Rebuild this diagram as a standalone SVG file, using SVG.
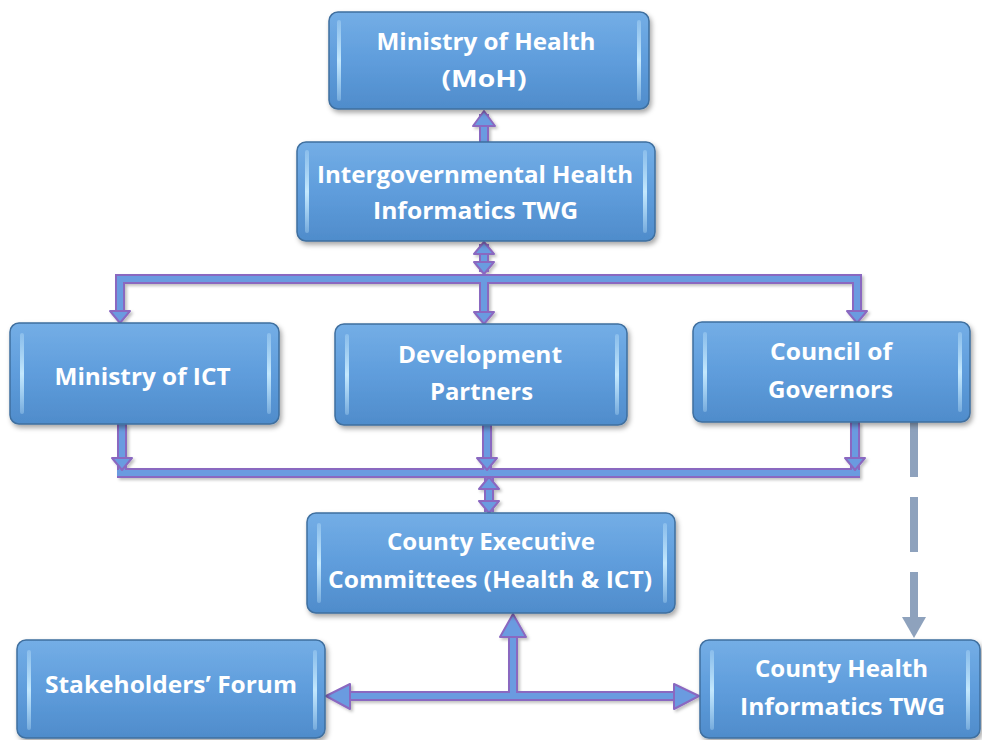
<svg xmlns="http://www.w3.org/2000/svg" width="982" height="740" viewBox="0 0 982 740">
<defs>
<linearGradient id="boxg" x1="0" y1="0" x2="0" y2="1">
<stop offset="0" stop-color="#74aee6"/>
<stop offset="0.5" stop-color="#5f9ddc"/>
<stop offset="1" stop-color="#4f8ccb"/>
</linearGradient>
<linearGradient id="stripg" x1="0" y1="0" x2="0" y2="1">
<stop offset="0" stop-color="#c9ecff" stop-opacity="0.3"/>
<stop offset="0.5" stop-color="#c9ecff" stop-opacity="0.95"/>
<stop offset="1" stop-color="#c9ecff" stop-opacity="0.3"/>
</linearGradient>
<filter id="sh" x="-10%" y="-10%" width="130%" height="140%">
<feDropShadow dx="2" dy="3" stdDeviation="2.5" flood-color="#000" flood-opacity="0.35"/>
</filter>
<filter id="csh" x="-20%" y="-20%" width="140%" height="140%">
<feDropShadow dx="2" dy="2" stdDeviation="1.5" flood-color="#000" flood-opacity="0.25"/>
</filter>
</defs>
<style>
.box{fill:url(#boxg);stroke:#3f6f9f;stroke-width:1.5;filter:url(#sh)}
.strip{fill:url(#stripg)}
.lbl{font-family:"Open Sans","Liberation Sans",sans-serif;font-weight:700;font-size:24px;fill:#ffffff;text-anchor:middle}
.out{fill:none;stroke:#8a68c0;stroke-width:10}
.in{fill:none;stroke:#6b9be0;stroke-width:6}
.head{fill:#6b9be0;stroke:#8a68c0;stroke-width:2;stroke-linejoin:round}
.dash{fill:none;stroke:#8ea2bd;stroke-width:8;stroke-dasharray:55 20}
.dhead{fill:#8ea2bd}
</style>
<rect width="982" height="740" fill="#ffffff"/>

<g id="connectors">
<g filter="url(#csh)">
<path class="out" d="M484,114 V142"/>
<path class="out" d="M484,244 V272"/>
<path class="out" d="M120,312 V279 H857 V312"/>
<path class="out" d="M484,279 V314"/>
<path class="out" d="M122,424 V473 M487,425 V473 M855,422 V473 M117,473 H860"/>
<path class="out" d="M489,478 V512"/>
<path class="out" d="M513,625 V696"/>
<path class="out" d="M340,696 H688"/>
<path class="in" d="M484,114 V142"/>
<path class="in" d="M484,244 V272"/>
<path class="in" d="M120,312 V279 H857 V312"/>
<path class="in" d="M484,279 V314"/>
<path class="in" d="M122,424 V473 M487,425 V473 M855,422 V473 M117,473 H860"/>
<path class="in" d="M489,478 V512"/>
<path class="in" d="M513,625 V696"/>
<path class="in" d="M340,696 H688"/>
<polygon class="head" points="473,126 495,126 484,111"/>
<polygon class="head" points="474,254 494,254 484,242"/>
<polygon class="head" points="474,262 494,262 484,274"/>
<polygon class="head" points="110,311 130,311 120,323"/>
<polygon class="head" points="474,312 494,312 484,324"/>
<polygon class="head" points="847,311 867,311 857,323"/>
<polygon class="head" points="112,458 132,458 122,470"/>
<polygon class="head" points="477,458 497,458 487,470"/>
<polygon class="head" points="845,458 865,458 855,470"/>
<polygon class="head" points="479,489 499,489 489,477"/>
<polygon class="head" points="479,501 499,501 489,513"/>
<polygon class="head" points="500,637 526,637 513,614"/>
<polygon class="head" points="350,684 350,709 326,696"/>
<polygon class="head" points="674,684 674,709 699,696"/>
</g>
<path class="dash" d="M914,422 V620"/>
<polygon class="dhead" points="902,617 926,617 914,638"/>
</g>

<g id="moh">
<rect class="box" x="329" y="12" width="320" height="97" rx="9"/>
<rect class="strip" x="337" y="20" width="4" height="81" rx="2"/>
<rect class="strip" x="637" y="20" width="4" height="81" rx="2"/>
<text class="lbl" x="486" y="50" textLength="219" lengthAdjust="spacingAndGlyphs">Ministry of Health</text>
<text class="lbl" x="484" y="87" textLength="85" lengthAdjust="spacingAndGlyphs">(MoH)</text>
</g>

<g id="intergov">
<rect class="box" x="297" y="142" width="358" height="99" rx="9"/>
<rect class="strip" x="305" y="150" width="4" height="83" rx="2"/>
<rect class="strip" x="643" y="150" width="4" height="83" rx="2"/>
<text class="lbl" x="475" y="183" textLength="316" lengthAdjust="spacingAndGlyphs">Intergovernmental Health</text>
<text class="lbl" x="475.5" y="219" textLength="205" lengthAdjust="spacingAndGlyphs">Informatics TWG</text>
</g>

<g id="ict">
<rect class="box" x="10" y="323" width="269" height="101" rx="9"/>
<rect class="strip" x="20" y="333" width="4" height="81" rx="2"/>
<rect class="strip" x="267" y="333" width="4" height="81" rx="2"/>
<text class="lbl" x="142.5" y="385" textLength="176" lengthAdjust="spacingAndGlyphs">Ministry of ICT</text>
</g>

<g id="dev">
<rect class="box" x="335" y="324" width="292" height="101" rx="9"/>
<rect class="strip" x="345" y="334" width="4" height="81" rx="2"/>
<rect class="strip" x="615" y="334" width="4" height="81" rx="2"/>
<text class="lbl" x="480" y="363" textLength="164" lengthAdjust="spacingAndGlyphs">Development</text>
<text class="lbl" x="481.5" y="400" textLength="103" lengthAdjust="spacingAndGlyphs">Partners</text>
</g>

<g id="cog">
<rect class="box" x="693" y="322" width="277" height="100" rx="9"/>
<rect class="strip" x="703" y="332" width="4" height="80" rx="2"/>
<rect class="strip" x="958" y="332" width="4" height="80" rx="2"/>
<text class="lbl" x="831" y="360" textLength="122" lengthAdjust="spacingAndGlyphs">Council of</text>
<text class="lbl" x="830.5" y="398" textLength="125" lengthAdjust="spacingAndGlyphs">Governors</text>
</g>

<g id="cec">
<rect class="box" x="307" y="513" width="368" height="100" rx="9"/>
<rect class="strip" x="317" y="523" width="4" height="80" rx="2"/>
<rect class="strip" x="663" y="523" width="4" height="80" rx="2"/>
<text class="lbl" x="491" y="550" textLength="208" lengthAdjust="spacingAndGlyphs">County Executive</text>
<text class="lbl" x="490" y="588" textLength="324" lengthAdjust="spacingAndGlyphs">Committees (Health &amp; ICT)</text>
</g>

<g id="forum">
<rect class="box" x="17" y="640" width="308" height="98" rx="9"/>
<rect class="strip" x="27" y="650" width="4" height="80" rx="2"/>
<rect class="strip" x="313" y="650" width="4" height="80" rx="2"/>
<text class="lbl" x="171" y="693" textLength="252" lengthAdjust="spacingAndGlyphs">Stakeholders’ Forum</text>
</g>

<g id="chtwg">
<rect class="box" x="700" y="640" width="280" height="98" rx="9"/>
<rect class="strip" x="710" y="650" width="4" height="80" rx="2"/>
<rect class="strip" x="966" y="650" width="4" height="80" rx="2"/>
<text class="lbl" x="841.5" y="677" textLength="173" lengthAdjust="spacingAndGlyphs">County Health</text>
<text class="lbl" x="842.5" y="715" textLength="205" lengthAdjust="spacingAndGlyphs">Informatics TWG</text>
</g>
</svg>
